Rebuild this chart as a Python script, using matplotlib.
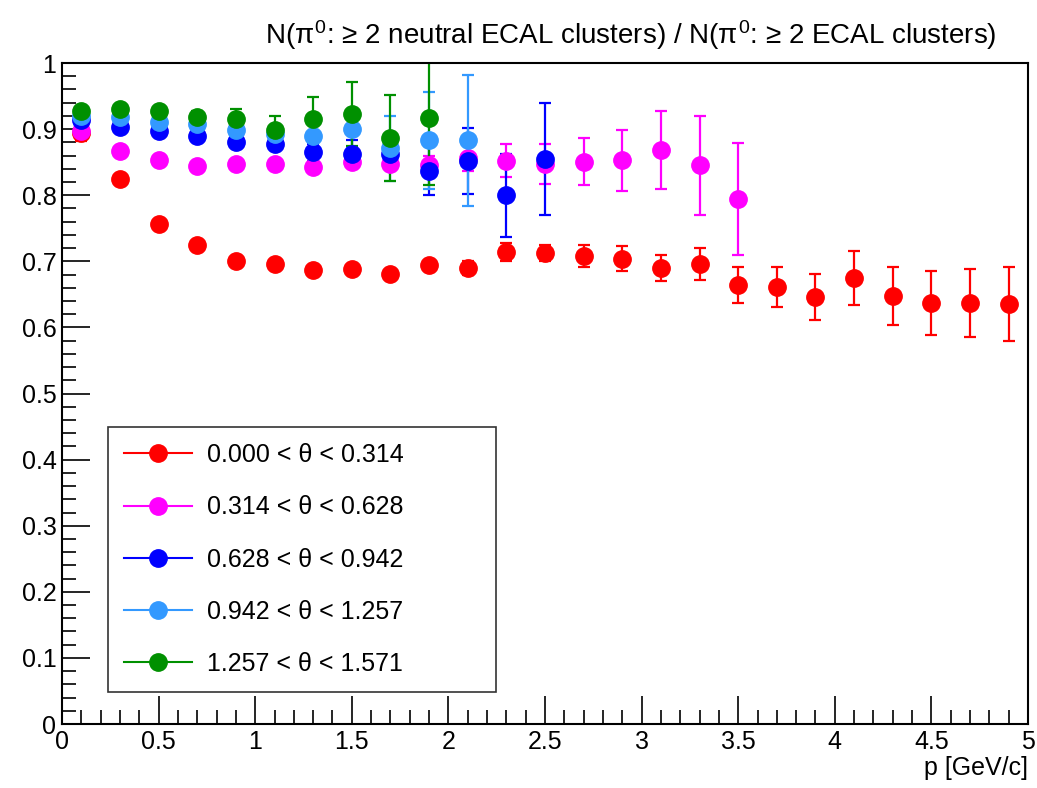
import numpy as np
import matplotlib
matplotlib.use("Agg")
import matplotlib.pyplot as plt
from matplotlib.ticker import MultipleLocator, FuncFormatter
from matplotlib.lines import Line2D

plt.rcParams['font.family'] = ['Liberation Sans', 'DejaVu Sans']
plt.rcParams['mathtext.fontset'] = 'custom'
plt.rcParams['mathtext.rm'] = 'Liberation Sans'
plt.rcParams['mathtext.it'] = 'Liberation Sans'

# momentum bin centres
p_red = [0.1, 0.3, 0.5, 0.7, 0.9, 1.1, 1.3, 1.5, 1.7, 1.9, 2.1, 2.3, 2.5,
         2.7, 2.9, 3.1, 3.3, 3.5, 3.7, 3.9, 4.1, 4.3, 4.5, 4.7, 4.9]
p_mag = [0.1, 0.3, 0.5, 0.7, 0.9, 1.1, 1.3, 1.5, 1.7, 1.9, 2.1, 2.3, 2.5,
         2.7, 2.9, 3.1, 3.3, 3.5]
p_blue = [0.1, 0.3, 0.5, 0.7, 0.9, 1.1, 1.3, 1.5, 1.7, 1.9, 2.1, 2.3, 2.5]
p_azure = [0.1, 0.3, 0.5, 0.7, 0.9, 1.1, 1.3, 1.5, 1.7, 1.9, 2.1]
p_green = [0.1, 0.3, 0.5, 0.7, 0.9, 1.1, 1.3, 1.5, 1.7, 1.9]

# ratios and errors per theta bin
r_red = [0.894, 0.824, 0.756, 0.725, 0.700, 0.696, 0.687, 0.688, 0.681, 0.694,
         0.690, 0.714, 0.712, 0.708, 0.704, 0.690, 0.696, 0.664, 0.661, 0.646,
         0.675, 0.648, 0.637, 0.637, 0.635]
e_red = [0.012, 0.005, 0.005, 0.005, 0.005, 0.005, 0.005, 0.005, 0.005, 0.007,
         0.010, 0.013, 0.012, 0.016, 0.019, 0.020, 0.024, 0.027, 0.030, 0.035,
         0.041, 0.044, 0.048, 0.051, 0.056]

r_mag = [0.897, 0.867, 0.853, 0.844, 0.848, 0.848, 0.843, 0.850, 0.848, 0.846,
         0.856, 0.852, 0.847, 0.851, 0.853, 0.869, 0.845, 0.794]
e_mag = [0.004, 0.004, 0.004, 0.004, 0.005, 0.005, 0.006, 0.007, 0.009, 0.014,
         0.020, 0.025, 0.030, 0.036, 0.046, 0.059, 0.075, 0.085]

r_blue = [0.914, 0.903, 0.897, 0.890, 0.881, 0.878, 0.865, 0.863, 0.862, 0.837,
          0.852, 0.800, 0.855]
e_blue = [0.004, 0.004, 0.005, 0.006, 0.007, 0.009, 0.013, 0.021, 0.022, 0.037,
          0.050, 0.063, 0.085]

r_azure = [0.920, 0.918, 0.911, 0.908, 0.899, 0.893, 0.890, 0.900, 0.871, 0.883,
           0.883]
e_azure = [0.004, 0.005, 0.006, 0.007, 0.009, 0.012, 0.018, 0.028, 0.049, 0.073,
           0.099]

r_green = [0.927, 0.930, 0.927, 0.918, 0.915, 0.898, 0.915, 0.923, 0.886, 0.917]
e_green = [0.005, 0.006, 0.007, 0.010, 0.015, 0.022, 0.033, 0.049, 0.065, 0.102]

labels = ['0.000 < θ < 0.314', '0.314 < θ < 0.628', '0.628 < θ < 0.942',
          '0.942 < θ < 1.257', '1.257 < θ < 1.571']
colors = ['#ff0000', '#ff00ff', '#0000ff', '#3399ff', '#009000']

series = [(p_red, r_red, e_red), (p_mag, r_mag, e_mag), (p_blue, r_blue, e_blue),
          (p_azure, r_azure, e_azure), (p_green, r_green, e_green)]

fig = plt.figure(figsize=(10.37, 7.88), dpi=100)
ax = fig.add_axes([0.0598, 0.0812, 0.9315, 0.8388])

for (x, y, e), c, lab in zip(series, colors, labels):
    ax.errorbar(x, y, yerr=e, fmt='none', ecolor=c, elinewidth=1.6,
                capsize=4, capthick=1.6, zorder=2)
    ax.plot(x, y, 'o', color=c, markersize=12.5, linestyle='none', zorder=3)

ax.set_xlim(0, 5)
ax.set_ylim(0, 1)
ax.xaxis.set_major_locator(MultipleLocator(0.5))
ax.xaxis.set_minor_locator(MultipleLocator(0.1))
ax.yaxis.set_major_locator(MultipleLocator(0.1))
ax.yaxis.set_minor_locator(MultipleLocator(0.02))
fmt = FuncFormatter(lambda v, pos: f'{round(v, 2):g}')
ax.xaxis.set_major_formatter(fmt)
ax.yaxis.set_major_formatter(fmt)
ax.tick_params(which='both', direction='in', labelsize=18, width=1.2)
ax.tick_params(which='major', length=20, pad=4)
ax.tick_params(which='minor', length=10)
for s in ax.spines.values():
    s.set_linewidth(1.5)

ax.set_xlabel('p [GeV/c]', fontsize=18, loc='right', labelpad=2)
fig.text(0.608, 0.955, r'N($\pi^{0}$: ≥ 2 neutral ECAL clusters) / N($\pi^{0}$: ≥ 2 ECAL clusters)',
         ha='center', va='center', fontsize=20)

leg_handles = [Line2D([0], [0], color=c, marker='o', markersize=12.5, lw=1.5)
               for c in colors]
leg = ax.legend(leg_handles, labels, loc='lower left',
                bbox_to_anchor=(0.0476, 0.048, 0.402, 0.40), mode='expand',
                borderaxespad=0, fontsize=18, frameon=True, fancybox=False,
                edgecolor='black', borderpad=0.65, labelspacing=1.13,
                handlelength=2.7, handletextpad=0.6)
leg.get_frame().set_linewidth(1.2)

fig.savefig('out.png', dpi=100)
